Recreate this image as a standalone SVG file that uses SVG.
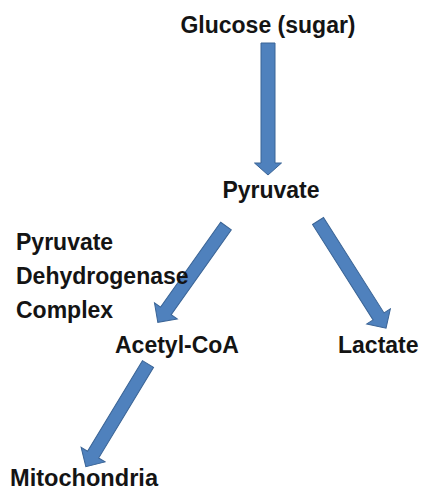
<svg xmlns="http://www.w3.org/2000/svg" width="425" height="493" viewBox="0 0 425 493">
  <style>
    .lbl { font-family: "Liberation Sans", Arial, sans-serif; font-weight: bold; font-size: 23px; fill: #141414; }
    .arr { fill: #4F81BD; stroke: #3A6496; stroke-width: 1; stroke-linejoin: miter; }
  </style>
  <rect width="425" height="493" fill="#ffffff"/>
  <g id="connectors">
    <polygon class="arr" transform="translate(268,43)" points="-7,0 7,0 7,120 13.5,120 0,132 -13.5,120 -7,120"/>
    <polygon class="arr" transform="translate(226,226) rotate(35.3)" points="-6.5,0 6.5,0 6.5,104 14,104 0,118 -14,104 -6.5,104"/>
    <polygon class="arr" transform="translate(318,221) rotate(-32.4)" points="-6.5,0 6.5,0 6.5,113 14,113 0,127 -14,113 -6.5,113"/>
    <polygon class="arr" transform="translate(148,364) rotate(31.2)" points="-6.5,0 6.5,0 6.5,106 14,106 0,120 -14,106 -6.5,106"/>
  </g>
  <g id="glucose"><text class="lbl" x="268" y="33" text-anchor="middle">Glucose (sugar)</text></g>
  <g id="pyruvate"><text class="lbl" x="271" y="198" text-anchor="middle">Pyruvate</text></g>
  <g id="pdc">
    <text class="lbl" x="16" y="250">Pyruvate</text>
    <text class="lbl" x="16" y="284">Dehydrogenase</text>
    <text class="lbl" x="16" y="318">Complex</text>
  </g>
  <g id="acetylcoa"><text class="lbl" x="115" y="353">Acetyl-CoA</text></g>
  <g id="lactate"><text class="lbl" x="338" y="353">Lactate</text></g>
  <g id="mitochondria"><text class="lbl" x="10" y="486" textLength="148" lengthAdjust="spacingAndGlyphs">Mitochondria</text></g>
</svg>
